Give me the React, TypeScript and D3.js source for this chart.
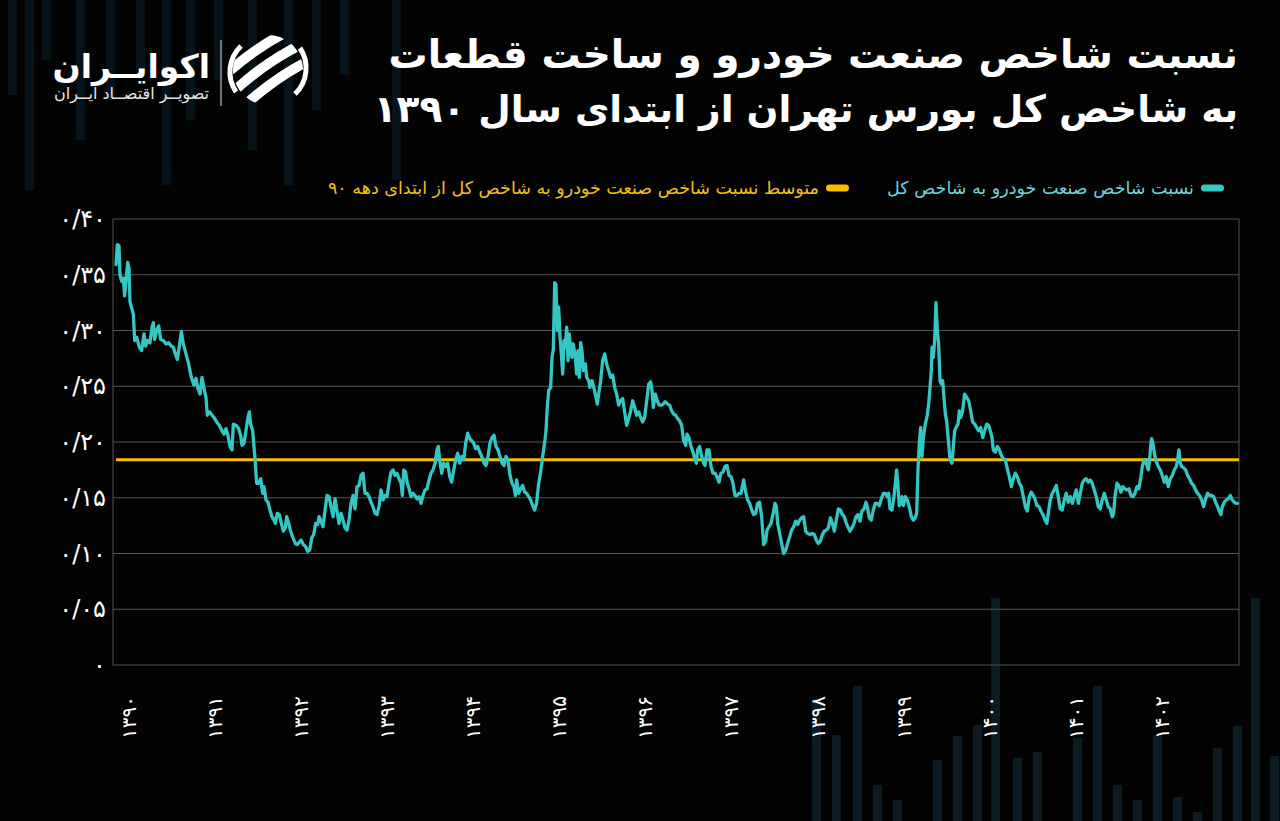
import * as d3 from "d3";

// ratio of the auto & parts index to TEDPIX (decimal Persian year, ratio)
const ratio1390: [number, number][] = [
  [1389.849, 0.359], [1389.864, 0.377], [1389.884, 0.376], [1389.895, 0.35], [1389.915, 0.344], [1389.934, 0.347],
  [1389.949, 0.331], [1389.965, 0.344], [1389.984, 0.361], [1390.0, 0.356], [1390.011, 0.326], [1390.027, 0.321],
  [1390.05, 0.315], [1390.066, 0.291], [1390.089, 0.294], [1390.12, 0.285], [1390.147, 0.282], [1390.174, 0.297],
  [1390.193, 0.286], [1390.217, 0.291], [1390.244, 0.289], [1390.267, 0.303], [1390.283, 0.307], [1390.298, 0.292],
  [1390.321, 0.3], [1390.345, 0.304], [1390.368, 0.292], [1390.399, 0.291], [1390.43, 0.288], [1390.461, 0.289],
  [1390.492, 0.286], [1390.515, 0.285], [1390.538, 0.279], [1390.561, 0.274], [1390.585, 0.286], [1390.608, 0.299],
  [1390.631, 0.288], [1390.662, 0.279], [1390.693, 0.27], [1390.724, 0.258], [1390.755, 0.251], [1390.778, 0.257],
  [1390.801, 0.248], [1390.825, 0.243], [1390.848, 0.258], [1390.871, 0.248], [1390.894, 0.24], [1390.91, 0.224],
  [1390.933, 0.227], [1390.956, 0.225], [1390.987, 0.222],
];
const ratio1391: [number, number][] = [
  [1391.018, 0.218], [1391.049, 0.215], [1391.08, 0.21], [1391.104, 0.207], [1391.127, 0.212], [1391.15, 0.206],
  [1391.173, 0.196], [1391.197, 0.193], [1391.212, 0.216], [1391.243, 0.215], [1391.274, 0.212], [1391.297, 0.206],
  [1391.313, 0.197], [1391.336, 0.199], [1391.359, 0.21], [1391.382, 0.222], [1391.398, 0.227], [1391.413, 0.216],
  [1391.437, 0.21], [1391.452, 0.196], [1391.468, 0.181], [1391.483, 0.163], [1391.506, 0.163], [1391.53, 0.167],
  [1391.553, 0.154], [1391.568, 0.16], [1391.592, 0.148], [1391.615, 0.146], [1391.638, 0.139], [1391.661, 0.133],
  [1391.685, 0.13], [1391.7, 0.127], [1391.723, 0.136], [1391.747, 0.135], [1391.77, 0.127], [1391.793, 0.12],
  [1391.816, 0.123], [1391.832, 0.133], [1391.855, 0.127], [1391.878, 0.12], [1391.901, 0.115], [1391.932, 0.109],
  [1391.956, 0.108], [1391.987, 0.111], [1391.999, 0.112],
];
const ratio1392: [number, number][] = [
  [1392.026, 0.108], [1392.053, 0.106], [1392.076, 0.102], [1392.099, 0.103], [1392.123, 0.114], [1392.146, 0.117],
  [1392.169, 0.127], [1392.192, 0.126], [1392.208, 0.133], [1392.231, 0.129], [1392.254, 0.124], [1392.278, 0.139],
  [1392.301, 0.152], [1392.324, 0.151], [1392.347, 0.142], [1392.371, 0.133], [1392.394, 0.149], [1392.417, 0.138],
  [1392.44, 0.127], [1392.464, 0.136], [1392.487, 0.13], [1392.51, 0.123], [1392.533, 0.121], [1392.556, 0.13],
  [1392.58, 0.145], [1392.603, 0.152], [1392.626, 0.14], [1392.649, 0.16], [1392.673, 0.161], [1392.696, 0.17],
  [1392.719, 0.172], [1392.742, 0.154], [1392.766, 0.154], [1392.789, 0.151], [1392.812, 0.146], [1392.835, 0.142],
  [1392.859, 0.136], [1392.882, 0.135], [1392.905, 0.142], [1392.928, 0.157], [1392.952, 0.148], [1392.975, 0.152],
  [1392.998, 0.151],
];
const ratio1393: [number, number][] = [
  [1393.021, 0.163], [1393.044, 0.173], [1393.068, 0.175], [1393.091, 0.17], [1393.114, 0.172], [1393.137, 0.167],
  [1393.161, 0.163], [1393.176, 0.152], [1393.192, 0.175], [1393.215, 0.173], [1393.23, 0.164], [1393.254, 0.158],
  [1393.277, 0.151], [1393.3, 0.154], [1393.323, 0.152], [1393.347, 0.149], [1393.37, 0.151], [1393.393, 0.145],
  [1393.416, 0.152], [1393.44, 0.157], [1393.463, 0.158], [1393.486, 0.166], [1393.509, 0.172], [1393.532, 0.175],
  [1393.556, 0.181], [1393.579, 0.193], [1393.594, 0.196], [1393.61, 0.184], [1393.633, 0.172], [1393.656, 0.181],
  [1393.68, 0.178], [1393.703, 0.181], [1393.726, 0.169], [1393.749, 0.164], [1393.773, 0.175], [1393.796, 0.184],
  [1393.819, 0.19], [1393.842, 0.181], [1393.866, 0.187], [1393.889, 0.184], [1393.912, 0.199], [1393.935, 0.208],
  [1393.958, 0.203], [1393.982, 0.201],
];
const ratio1394: [number, number][] = [
  [1394.005, 0.199], [1394.028, 0.194], [1394.051, 0.196], [1394.075, 0.191], [1394.098, 0.187], [1394.125, 0.181],
  [1394.148, 0.179], [1394.171, 0.187], [1394.194, 0.199], [1394.217, 0.204], [1394.241, 0.206], [1394.264, 0.196],
  [1394.287, 0.193], [1394.31, 0.187], [1394.334, 0.181], [1394.357, 0.179], [1394.38, 0.187], [1394.403, 0.184],
  [1394.427, 0.17], [1394.45, 0.163], [1394.473, 0.16], [1394.489, 0.152], [1394.504, 0.166], [1394.527, 0.154],
  [1394.551, 0.158], [1394.574, 0.161], [1394.597, 0.155], [1394.62, 0.154], [1394.644, 0.151], [1394.667, 0.148],
  [1394.69, 0.143], [1394.713, 0.139], [1394.736, 0.145], [1394.76, 0.163], [1394.783, 0.173], [1394.806, 0.187],
  [1394.829, 0.199], [1394.845, 0.21], [1394.86, 0.231], [1394.876, 0.246], [1394.899, 0.249], [1394.915, 0.276],
  [1394.93, 0.283], [1394.946, 0.343], [1394.961, 0.341], [1394.977, 0.3], [1394.992, 0.321],
];
const ratio1395: [number, number][] = [
  [1395.008, 0.294], [1395.023, 0.279], [1395.039, 0.261], [1395.054, 0.291], [1395.07, 0.285], [1395.085, 0.303],
  [1395.101, 0.273], [1395.116, 0.297], [1395.132, 0.282], [1395.147, 0.276], [1395.162, 0.288], [1395.186, 0.276],
  [1395.201, 0.261], [1395.217, 0.282], [1395.232, 0.258], [1395.248, 0.289], [1395.263, 0.282], [1395.279, 0.264],
  [1395.302, 0.27], [1395.317, 0.258], [1395.341, 0.255], [1395.356, 0.249], [1395.379, 0.255], [1395.403, 0.248],
  [1395.426, 0.24], [1395.441, 0.234], [1395.457, 0.243], [1395.48, 0.255], [1395.503, 0.273], [1395.527, 0.279],
  [1395.55, 0.27], [1395.573, 0.264], [1395.596, 0.258], [1395.62, 0.26], [1395.643, 0.249], [1395.666, 0.243],
  [1395.689, 0.233], [1395.712, 0.237], [1395.736, 0.239], [1395.759, 0.227], [1395.782, 0.215], [1395.805, 0.221],
  [1395.829, 0.228], [1395.852, 0.237], [1395.875, 0.231], [1395.898, 0.224], [1395.922, 0.227], [1395.945, 0.222],
  [1395.968, 0.218], [1395.991, 0.222],
];
const ratio1396: [number, number][] = [
  [1396.015, 0.237], [1396.038, 0.252], [1396.061, 0.254], [1396.077, 0.246], [1396.092, 0.231], [1396.115, 0.243],
  [1396.138, 0.237], [1396.162, 0.233], [1396.185, 0.233], [1396.208, 0.234], [1396.228, 0.236], [1396.258, 0.234],
  [1396.282, 0.233], [1396.305, 0.228], [1396.328, 0.225], [1396.351, 0.224], [1396.375, 0.221], [1396.398, 0.219],
  [1396.421, 0.215], [1396.444, 0.201], [1396.468, 0.197], [1396.483, 0.207], [1396.506, 0.204], [1396.53, 0.196],
  [1396.553, 0.191], [1396.576, 0.184], [1396.592, 0.181], [1396.607, 0.193], [1396.63, 0.196], [1396.654, 0.187],
  [1396.677, 0.181], [1396.692, 0.179], [1396.716, 0.193], [1396.739, 0.193], [1396.762, 0.178], [1396.785, 0.172],
  [1396.809, 0.172], [1396.832, 0.169], [1396.855, 0.164], [1396.878, 0.172], [1396.901, 0.173], [1396.925, 0.178],
  [1396.948, 0.179], [1396.971, 0.17], [1396.994, 0.169],
];
const ratio1397: [number, number][] = [
  [1397.018, 0.163], [1397.041, 0.152], [1397.064, 0.152], [1397.087, 0.154], [1397.111, 0.154], [1397.142, 0.166],
  [1397.165, 0.155], [1397.188, 0.148], [1397.211, 0.145], [1397.235, 0.139], [1397.258, 0.135], [1397.281, 0.136],
  [1397.304, 0.145], [1397.327, 0.146], [1397.351, 0.133], [1397.374, 0.108], [1397.397, 0.111], [1397.413, 0.121],
  [1397.436, 0.124], [1397.459, 0.127], [1397.482, 0.135], [1397.506, 0.145], [1397.521, 0.142], [1397.537, 0.127],
  [1397.56, 0.118], [1397.583, 0.109], [1397.606, 0.1], [1397.63, 0.103], [1397.653, 0.109], [1397.676, 0.115],
  [1397.699, 0.121], [1397.723, 0.124], [1397.746, 0.129], [1397.769, 0.126], [1397.792, 0.13], [1397.815, 0.132],
  [1397.839, 0.133], [1397.862, 0.12], [1397.885, 0.118], [1397.916, 0.117], [1397.939, 0.118], [1397.963, 0.117],
  [1397.986, 0.112],
];
const ratio1398: [number, number][] = [
  [1398.009, 0.109], [1398.032, 0.111], [1398.056, 0.117], [1398.079, 0.12], [1398.102, 0.121], [1398.125, 0.123],
  [1398.149, 0.132], [1398.172, 0.127], [1398.195, 0.12], [1398.218, 0.13], [1398.242, 0.14], [1398.265, 0.139],
  [1398.288, 0.135], [1398.311, 0.133], [1398.334, 0.127], [1398.358, 0.123], [1398.377, 0.12], [1398.4, 0.123],
  [1398.424, 0.127], [1398.447, 0.133], [1398.47, 0.135], [1398.493, 0.129], [1398.516, 0.138], [1398.54, 0.14],
  [1398.563, 0.146], [1398.578, 0.142], [1398.602, 0.132], [1398.625, 0.13], [1398.648, 0.139], [1398.671, 0.145],
  [1398.695, 0.145], [1398.718, 0.143], [1398.741, 0.149], [1398.764, 0.154], [1398.788, 0.154], [1398.811, 0.151],
  [1398.826, 0.154], [1398.842, 0.14], [1398.865, 0.139], [1398.888, 0.151], [1398.904, 0.163], [1398.919, 0.175],
  [1398.935, 0.16], [1398.95, 0.143], [1398.966, 0.145], [1398.981, 0.151], [1398.997, 0.143],
];
const ratio1399: [number, number][] = [
  [1399.02, 0.151], [1399.043, 0.148], [1399.066, 0.142], [1399.09, 0.133], [1399.113, 0.13], [1399.136, 0.132],
  [1399.152, 0.136], [1399.167, 0.175], [1399.183, 0.199], [1399.198, 0.213], [1399.214, 0.187], [1399.229, 0.204],
  [1399.252, 0.216], [1399.276, 0.224], [1399.291, 0.234], [1399.307, 0.249], [1399.322, 0.264], [1399.33, 0.285],
  [1399.345, 0.276], [1399.361, 0.291], [1399.376, 0.325], [1399.392, 0.3], [1399.407, 0.288], [1399.423, 0.255],
  [1399.438, 0.252], [1399.454, 0.255], [1399.469, 0.24], [1399.485, 0.225], [1399.5, 0.219], [1399.523, 0.199],
  [1399.539, 0.184], [1399.562, 0.181], [1399.578, 0.196], [1399.593, 0.21], [1399.609, 0.213], [1399.632, 0.216],
  [1399.647, 0.228], [1399.663, 0.222], [1399.686, 0.228], [1399.709, 0.243], [1399.733, 0.24], [1399.756, 0.237],
  [1399.779, 0.228], [1399.802, 0.218], [1399.826, 0.216], [1399.849, 0.213], [1399.872, 0.21], [1399.895, 0.213],
  [1399.919, 0.204], [1399.942, 0.21], [1399.965, 0.216], [1399.988, 0.215],
];
const ratio1400: [number, number][] = [
  [1400.011, 0.209], [1400.027, 0.204], [1400.042, 0.193], [1400.066, 0.191], [1400.089, 0.196], [1400.112, 0.193],
  [1400.135, 0.188], [1400.159, 0.185], [1400.182, 0.184], [1400.205, 0.176], [1400.228, 0.169], [1400.252, 0.16],
  [1400.275, 0.167], [1400.298, 0.172], [1400.321, 0.169], [1400.345, 0.163], [1400.368, 0.16], [1400.391, 0.151],
  [1400.414, 0.142], [1400.437, 0.138], [1400.461, 0.151], [1400.484, 0.155], [1400.507, 0.152], [1400.526, 0.149],
  [1400.549, 0.143], [1400.573, 0.142], [1400.596, 0.138], [1400.619, 0.135], [1400.642, 0.13], [1400.665, 0.127],
  [1400.681, 0.136], [1400.704, 0.148], [1400.727, 0.154], [1400.751, 0.157], [1400.774, 0.161], [1400.797, 0.151],
  [1400.82, 0.14], [1400.844, 0.139], [1400.867, 0.148], [1400.89, 0.154], [1400.913, 0.146], [1400.937, 0.151],
  [1400.96, 0.145], [1400.983, 0.151],
];
const ratio1401: [number, number][] = [
  [1401.006, 0.157], [1401.03, 0.145], [1401.053, 0.154], [1401.076, 0.163], [1401.099, 0.166], [1401.122, 0.167],
  [1401.146, 0.164], [1401.169, 0.166], [1401.192, 0.163], [1401.215, 0.157], [1401.239, 0.151], [1401.262, 0.142],
  [1401.285, 0.14], [1401.308, 0.148], [1401.332, 0.154], [1401.355, 0.148], [1401.378, 0.142], [1401.401, 0.14],
  [1401.425, 0.133], [1401.44, 0.136], [1401.456, 0.151], [1401.479, 0.163], [1401.502, 0.161], [1401.525, 0.155],
  [1401.548, 0.16], [1401.572, 0.158], [1401.595, 0.157], [1401.618, 0.158], [1401.641, 0.152], [1401.665, 0.151],
  [1401.688, 0.154], [1401.711, 0.16], [1401.734, 0.158], [1401.758, 0.169], [1401.773, 0.178], [1401.796, 0.184],
  [1401.82, 0.181], [1401.843, 0.175], [1401.858, 0.184], [1401.874, 0.199], [1401.882, 0.203], [1401.897, 0.199],
  [1401.913, 0.19], [1401.928, 0.184], [1401.944, 0.181], [1401.959, 0.178], [1401.982, 0.175],
];
const ratio1402: [number, number][] = [
  [1402.005, 0.17], [1402.029, 0.164], [1402.052, 0.169], [1402.075, 0.16], [1402.098, 0.167], [1402.122, 0.17],
  [1402.145, 0.175], [1402.168, 0.178], [1402.184, 0.184], [1402.199, 0.193], [1402.215, 0.181], [1402.23, 0.178],
  [1402.253, 0.177], [1402.277, 0.175], [1402.3, 0.17], [1402.323, 0.167], [1402.346, 0.163], [1402.37, 0.161],
  [1402.393, 0.157], [1402.416, 0.154], [1402.439, 0.152], [1402.463, 0.148], [1402.486, 0.142], [1402.509, 0.149],
  [1402.532, 0.154], [1402.555, 0.152], [1402.579, 0.152], [1402.602, 0.151], [1402.625, 0.146], [1402.648, 0.142],
  [1402.664, 0.139], [1402.687, 0.135], [1402.703, 0.142], [1402.726, 0.146], [1402.749, 0.148], [1402.772, 0.149],
  [1402.796, 0.152], [1402.819, 0.148], [1402.842, 0.146], [1402.865, 0.145], [1402.88, 0.145],
];

const ratioSeries = [
  ...ratio1390, ...ratio1391, ...ratio1392, ...ratio1393, ...ratio1394, ...ratio1395, ...ratio1396,
  ...ratio1397, ...ratio1398, ...ratio1399, ...ratio1400, ...ratio1401, ...ratio1402,
];

const averageRatio = 0.184;
const yearTicks = [1390, 1391, 1392, 1393, 1394, 1395, 1396, 1397, 1398, 1399, 1400, 1401, 1402];
const yTicks = [0, 0.05, 0.1, 0.15, 0.2, 0.25, 0.3, 0.35, 0.4];
const xDomain: [number, number] = [1389.814, 1402.897];

const titleLines = ["نسبت شاخص صنعت خودرو و ساخت قطعات", "به شاخص کل بورس تهران از ابتدای سال ۱۳۹۰"];
const legendItems = [
  { label: "نسبت شاخص صنعت خودرو به شاخص کل", color: "#37c8c6", text: "#6dd3dd", right: 1224 },
  { label: "متوسط نسبت شاخص صنعت خودرو به شاخص کل از ابتدای دهه ۹۰", color: "#f7bd00", text: "#f3bf1a", right: 849 },
];

// faint decorative bars in the background (x, top, bottom)
const bgBarsTop: [number, number, number][] = [
  [8, 0, 95], [25, 0, 190], [42, 0, 60], [76, 0, 140], [106, 0, 100], [136, 0, 70], [162, 0, 185],
  [186, 0, 120], [214, 0, 80], [248, 0, 150], [284, 0, 185], [312, 0, 110], [340, 0, 75], [392, 0, 180],
];
const bgBarsBottom: [number, number, number][] = [
  [812, 700, 821], [832, 735, 821], [853, 686, 821], [873, 785, 821], [893, 800, 821], [933, 760, 821],
  [953, 736, 821], [973, 725, 821], [991, 598, 821], [1013, 758, 821], [1033, 752, 821], [1073, 738, 821],
  [1093, 686, 821], [1113, 785, 821], [1133, 800, 821], [1153, 735, 821], [1173, 797, 821], [1193, 812, 821],
  [1213, 748, 821], [1233, 726, 821], [1251, 598, 821], [1270, 756, 821],
];

const faDigits = "۰۱۲۳۴۵۶۷۸۹";
const toFa = (s: string) => s.replace(/\d/g, (d) => faDigits[+d]);
const fontFa = "'DejaVu Sans', sans-serif";

const W = 1280;
const H = 821;
const plot = { left: 113, right: 1239, top: 219, bottom: 665 };

function Logo() {
  return (
    <g>
      <defs>
        <clipPath id="emblem-clip">
          <circle cx={268} cy={70} r={35} />
        </clipPath>
      </defs>
      <text x={210} y={78} textAnchor="end" fill="#fff" fontFamily={fontFa} fontWeight="bold" fontSize={33}>
        اکوایــران
      </text>
      <text x={209} y={99} textAnchor="end" fill="#e8e8e8" fontFamily={fontFa} fontSize={16}>
        تصویــر اقتصــاد ایــران
      </text>
      <line x1={221} x2={221} y1={40} y2={106} stroke="#bbb" strokeWidth={1.2} />
      <g clipPath="url(#emblem-clip)" transform="rotate(-35 268 70)">
        {[-24, -6, 12].map((dy) => (
          <path
            key={dy}
            d={`M220,${70 + dy} Q268,${62 + dy} 316,${70 + dy} L316,${80 + dy} Q268,${72 + dy} 220,${80 + dy} Z`}
            fill="#fff"
          />
        ))}
      </g>
      <path d="M241,46 A36,36 0 0 0 236,92" fill="none" stroke="#fff" strokeWidth={5} />
      <path d="M295,94 A36,36 0 0 0 300,48" fill="none" stroke="#fff" strokeWidth={5} />
    </g>
  );
}

export default function App() {
  const x = d3.scaleLinear().domain(xDomain).range([plot.left, plot.right]);
  const y = d3.scaleLinear().domain([0, 0.4]).range([plot.bottom, plot.top]);
  const line = d3
    .line<[number, number]>()
    .x((d) => x(d[0]))
    .y((d) => y(d[1]));

  const yLabel = (v: number) => (v === 0 ? toFa("0") : toFa(d3.format(".2f")(v).replace(".", "/")));

  return (
    <div style={{ position: "absolute", left: 0, top: 0, width: W, height: H, background: "#030303" }}>
      <svg width={W} height={H} style={{ display: "block" }}>
        <rect width={W} height={H} fill="#030303" />
        {bgBarsTop.map(([bx, top, bottom], i) => (
          <rect key={"t" + i} x={bx} y={top} width={9} height={bottom - top} fill="#07131a" />
        ))}
        {bgBarsBottom.map(([bx, top, bottom], i) => (
          <rect key={"b" + i} x={bx} y={top} width={9} height={bottom - top} fill="#0a1b21" />
        ))}

        <Logo />

        {titleLines.map((t, i) => (
          <text
            key={i}
            x={1238}
            y={68 + i * 54}
            textAnchor="end"
            fill="#fff"
            fontFamily={fontFa}
            fontWeight="bold"
            fontSize={i === 0 ? 39 : 37.5}
          >
            {t}
          </text>
        ))}

        {legendItems.map((item) => (
          <g key={item.label}>
            <rect x={item.right - 23} y={184.5} width={23} height={7} rx={3.5} fill={item.color} />
            <text
              x={item.right - 30}
              y={194}
              textAnchor="end"
              fill={item.text}
              fontFamily={fontFa}
              fontSize={17.5}
            >
              {item.label}
            </text>
          </g>
        ))}

        {yTicks.map((v) => (
          <g key={v}>
            <line x1={plot.left} x2={plot.right} y1={y(v)} y2={y(v)} stroke="#555" strokeWidth={1} />
            <text
              x={106}
              y={y(v)}
              textAnchor="end"
              dominantBaseline="central"
              fill="#fff"
              fontFamily={fontFa}
              fontSize={24}
              direction="ltr"
            >
              {yLabel(v)}
            </text>
          </g>
        ))}
        <line x1={plot.left} x2={plot.left} y1={plot.top} y2={plot.bottom} stroke="#555" />
        <line x1={plot.right} x2={plot.right} y1={plot.top} y2={plot.bottom} stroke="#555" />

        {yearTicks.map((yr) => (
          <text
            key={yr}
            transform={`translate(${x(yr)},696) rotate(-90)`}
            textAnchor="end"
            dominantBaseline="central"
            fill="#fff"
            fontFamily={fontFa}
            fontSize={20}
          >
            {toFa(String(yr))}
          </text>
        ))}

        <line
          x1={plot.left + 3}
          x2={plot.right}
          y1={y(averageRatio)}
          y2={y(averageRatio)}
          stroke="#f7bd00"
          strokeWidth={3}
        />
        <path
          d={line(ratioSeries) ?? ""}
          fill="none"
          stroke="#33c6c4"
          strokeWidth={3.3}
          strokeLinejoin="round"
          strokeLinecap="round"
        />
      </svg>
    </div>
  );
}
